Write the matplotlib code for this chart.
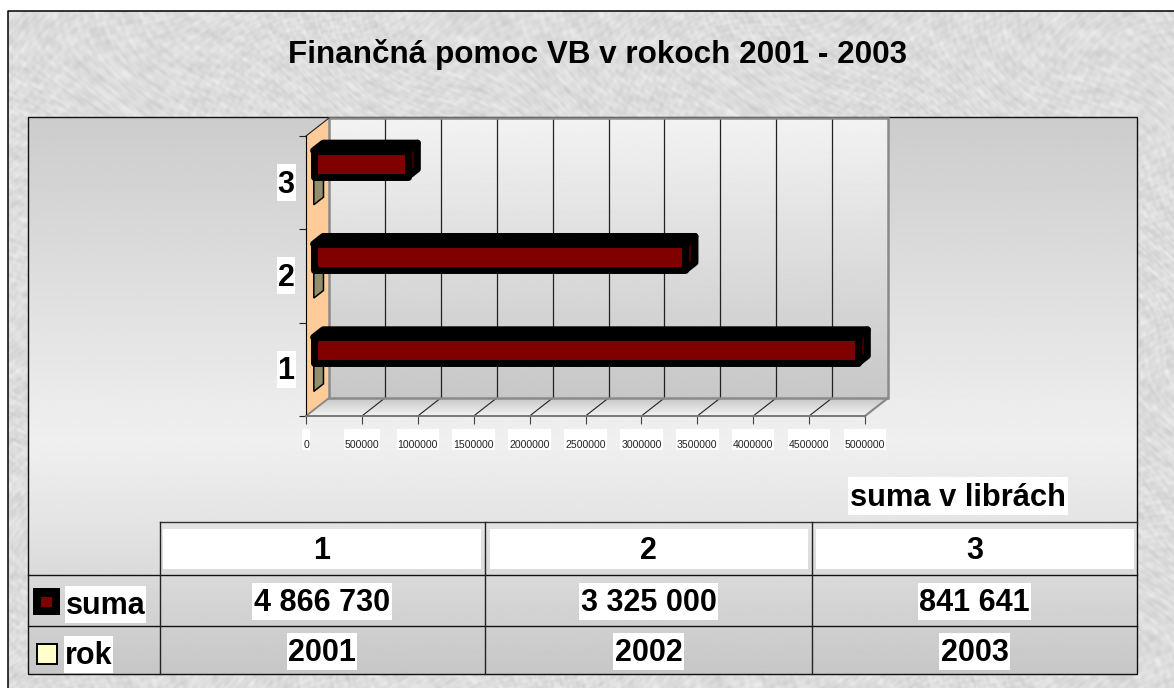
import matplotlib
matplotlib.use("Agg")
import matplotlib.pyplot as plt
from matplotlib.patches import Polygon, Rectangle
import numpy as np

plt.rcParams['font.family'] = ['Liberation Sans', 'DejaVu Sans']

title = 'Finančná pomoc VB v rokoch 2001 - 2003'
categories = [1, 2, 3]
suma = [4866730, 3325000, 841641]
rok = [2001, 2002, 2003]
suma_labels = ['4 866 730', '3 325 000', '841 641']
rok_labels = ['2001', '2002', '2003']
x_ticks = [0, 500000, 1000000, 1500000, 2000000, 2500000, 3000000, 3500000, 4000000, 4500000, 5000000]

W, H = 1174, 688
# front plane of the 3d box, in pixels
LEFT, RIGHT, TOP, BOTTOM = 306, 865, 136, 416
DX, DY = 23, 18

fig = plt.figure(figsize=(W / 100, H / 100), dpi=100, facecolor='white')
bg = fig.add_axes([0, 0, 1, 1], zorder=0)
bg.set_xlim(0, W)
bg.set_ylim(H, 0)
bg.axis('off')

ax = fig.add_axes([LEFT / W, 1 - BOTTOM / H, (RIGHT - LEFT) / W, (BOTTOM - TOP) / H], zorder=2)
ax.set_xlim(0, 5000000)
ax.set_ylim(0.5, 3.5)
ax.patch.set_alpha(0)
for s in ['top', 'right']:
    ax.spines[s].set_visible(False)
ax.spines['left'].set_color('black')
ax.spines['bottom'].set_color('#777777')
ax.spines['bottom'].set_linewidth(1.4)


def pr(value, cat, depth=0.0):
    # depth 0 = front plane, 1 = back wall
    x = value + depth * DX / (RIGHT - LEFT) * 5000000
    y = cat + depth * DY / (BOTTOM - TOP) * 3
    return (x, y)


def gradient(stops, extent, clip=None):
    ys = np.linspace(0, 1, 256)
    vals = np.interp(ys, [s[0] for s in stops], [s[1] for s in stops])
    im = bg.imshow(vals[:, None], cmap='gray', vmin=0, vmax=1, aspect='auto',
                   extent=extent, zorder=1, interpolation='bilinear')
    if clip is not None:
        poly = Polygon(clip, transform=bg.transData, fill=False, edgecolor='none')
        bg.add_patch(poly)
        im.set_clip_path(poly)


# mottled paper background, just layered waves in many directions
yy, xx = np.mgrid[0:H, 0:W]
waves = [(0.13, 0.07, 0.3), (0.041, -0.19, 1.1), (0.31, 0.37, 2.3), (0.57, -0.43, 4.0),
         (-0.23, 0.29, 0.9), (0.09, 0.47, 5.1), (0.71, 0.11, 3.3), (-0.37, 0.61, 1.7),
         (0.19, -0.53, 2.9), (0.83, -0.67, 0.4), (-0.11, 0.17, 4.4), (0.47, 0.79, 5.7)]
wx = xx + 14 * np.sin(yy * 0.037) + 9 * np.sin(yy * 0.011 + xx * 0.019)
wy = yy + 14 * np.sin(xx * 0.029) + 9 * np.sin(xx * 0.013 - yy * 0.023)
tex = sum(np.sin(a * wx + b * wy + c) for a, b, c in waves) / 4
bg.imshow(0.865 + 0.03 * tex, cmap='gray', vmin=0, vmax=1, aspect='auto',
          extent=(8, W, H, 11), zorder=0)
bg.set_xlim(0, W)
bg.set_ylim(H, 0)
bg.plot([8, 8, W], [H, 11, 11], color='black', lw=1.1, zorder=1)

# plot area + table
gradient([(0, 0.80), (0.58, 0.94), (0.74, 0.89), (1, 0.78)], (28, 1137, 674, 117))
bg.add_patch(Rectangle((28, 117), 1109, 557, fill=False, edgecolor='#111111', lw=1.0, zorder=3))
for y in [575, 625.5]:
    bg.plot([28, 1137], [y, y], color='#111111', lw=1.0, zorder=3)
bg.plot([159.5, 1137], [521.5, 521.5], color='#333333', lw=1.0, zorder=3)
for x in [159.5, 485, 811.5]:
    bg.plot([x, x], [521.5, 674], color='#222222', lw=1.0, zorder=3)

# back wall and floor
gradient([(0, 0.95), (1, 0.78)], (329, 888, 398, 118))
floor = [(329, 398), (888, 398), (865, 416), (306, 416)]
gradient([(0, 0.78), (1, 0.95)], (306, 888, 416, 398), clip=floor)
bg.set_xlim(0, W)
bg.set_ylim(H, 0)

# walls
ax.add_patch(Polygon([pr(0, 0.5), pr(0, 3.5), pr(0, 3.5, 1), pr(0, 0.5, 1)], closed=True,
                     facecolor='#ffcc99', edgecolor='none', zorder=1, clip_on=False))
for tick in x_ticks[1:-1]:
    ax.plot(*zip(pr(tick, 0.5, 1), pr(tick, 3.5, 1)), color='#222222', lw=0.9, zorder=1, clip_on=False)
    ax.plot(*zip(pr(tick, 0.5, 0), pr(tick, 0.5, 1)), color='#222222', lw=0.8, zorder=1, clip_on=False)
box = [pr(0, 0.5, 1), pr(0, 3.5, 1), pr(5000000, 3.5, 1), pr(5000000, 0.5, 1)]
ax.add_patch(Polygon(box, closed=True, fill=False, edgecolor='#8a8a8a', lw=1.8, zorder=2, clip_on=False))
ax.plot(*zip(pr(0, 0.5), pr(0, 0.5, 1)), color='#8a8a8a', lw=1.4, zorder=2, clip_on=False)
ax.plot(*zip(pr(5000000, 0.5), pr(5000000, 0.5, 1)), color='#8a8a8a', lw=1.6, zorder=2, clip_on=False)
ax.plot(*zip(pr(0, 3.5), pr(0, 3.5, 1)), color='#222222', lw=0.8, zorder=2, clip_on=False)

# bars
D0, D1 = 0.33, 0.75
HALF = 0.139
for c, s, r in zip(categories, suma, rok):
    # the "rok" series is only a sliver on this scale
    y0, y1 = c - 0.30, c - 0.02
    ax.add_patch(Polygon([pr(r, y0, D0), pr(r, y1, D0), pr(r, y1, D1), pr(r, y0, D1)], closed=True,
                         facecolor='#8f8f6e', edgecolor='black', lw=1.1, zorder=3, clip_on=False))
    y0, y1 = c + 0.14 - HALF, c + 0.14 + HALF
    lw = 5.0
    ax.add_patch(Polygon([pr(s, y0, D0), pr(s, y1, D0), pr(s, y1, D1), pr(s, y0, D1)], closed=True,
                         facecolor='#400000', edgecolor='black', lw=lw, joinstyle='round', zorder=4, clip_on=False))
    ax.add_patch(Polygon([pr(0, y1, D0), pr(0, y1, D1), pr(s, y1, D1), pr(s, y1, D0)], closed=True,
                         facecolor='black', edgecolor='black', lw=lw, joinstyle='round', zorder=4, clip_on=False))
    ax.add_patch(Polygon([pr(0, y0, D0), pr(0, y1, D0), pr(s, y1, D0), pr(s, y0, D0)], closed=True,
                         facecolor='#800000', edgecolor='black', lw=lw, joinstyle='round', zorder=5, clip_on=False))

# axes ticks
ax.set_xticks(x_ticks)
ax.set_xticklabels([str(t) for t in x_ticks], fontsize=7.6, color='#222222', zorder=8)
ax.tick_params(axis='x', length=5.8, width=0.8, color='#444444', pad=11.5)
ax.set_yticks([0.5, 1.5, 2.5, 3.5])
ax.set_yticklabels([])
ax.tick_params(axis='y', length=5, width=0.8, color='#222222')

fig.canvas.draw()
rend = fig.canvas.get_renderer()


def boxed(x, y, s, size, h, extra=3, draw_box=True):
    # text sits a little low inside its white box
    t = bg.text(x, y + 2, s, fontsize=size, fontweight='bold', ha='center', va='center', color='black', zorder=6)
    if draw_box:
        w = t.get_window_extent(rend).width + extra
        bg.add_patch(Rectangle((x - w / 2, y - h / 2), w, h, facecolor='white', edgecolor='none', zorder=5))
    return t


# white boxes behind x tick labels
for lab in ax.get_xticklabels():
    e = lab.get_window_extent(rend)
    bg.add_patch(Rectangle((e.x0 - 1, 429), e.width + 2, 21, facecolor='white', edgecolor='none', zorder=4))

boxed(598, 53, title, 22.6, 30, draw_box=False)
boxed(958, 496, 'suma v librách', 22.2, 38, extra=4)

for c in categories:
    px = ax.transData.transform((0, c))[1]
    boxed(286, H - px, str(c), 22, 37, extra=2)

# table
col_x = [322, 648.5, 974.5]
for x, c, s, r in zip(col_x, categories, suma_labels, rok_labels):
    bg.add_patch(Rectangle((x - 159, 529), 318, 40, facecolor='white', edgecolor='none', zorder=4))
    boxed(x, 549, str(c), 22, 36, draw_box=False)
    boxed(x, 601, s, 22, 37)
    boxed(x, 651, r, 22, 37)

boxed(105.5, 604.5, 'suma', 22, 37, extra=2)
boxed(88.5, 654.5, 'rok', 22, 37, extra=2)
bg.add_patch(Rectangle((33, 588), 27, 27, facecolor='black', edgecolor='none', zorder=4))
bg.add_patch(Rectangle((41, 597), 11, 10, facecolor='#800000', edgecolor='none', zorder=5))
bg.add_patch(Rectangle((36.5, 644), 20, 20, facecolor='#ffffcc', edgecolor='black', lw=1.4, zorder=4))

bg.set_xlim(0, W)
bg.set_ylim(H, 0)
fig.savefig('out.png', dpi=100)
